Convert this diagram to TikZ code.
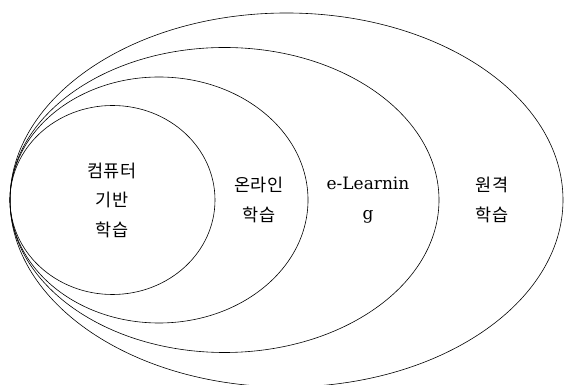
\documentclass[tikz,border=0pt]{standalone}
\usepackage{fontspec}
\setmainfont{DejaVu Serif}
\newfontfamily\korfont{Noto Sans CJK KR}
\usetikzlibrary{shapes.geometric}
\begin{document}
\begin{tikzpicture}[x=1pt, y=1pt,
    ring/.style={draw, ellipse, line width=0.6pt, inner sep=0pt, outer sep=0pt},
    areatext/.style={align=center, font=\korfont\fontsize{17.5}{29.5}\selectfont},
    latintext/.style={align=center, font=\fontsize{17}{29.5}\selectfont}]
    \useasboundingbox (0,0) rectangle (565,385);
    % nested areas, all touching at the left
    \node[ring, minimum width=553pt, minimum height=374pt] (distance) at (286.5,185) {};
    \node[ring, minimum width=429pt, minimum height=305pt] (elearn) at (224.5,185) {};
    \node[ring, minimum width=298pt, minimum height=246pt] (online) at (159,185) {};
    \node[ring, minimum width=205pt, minimum height=189pt] (cbl) at (112.5,185) {};
    % texts
    \node[areatext] (cbltext) at (112,185) {컴퓨터\\기반\\학습};
    \node[areatext] (onlinetext) at (259,185) {온라인\\학습};
    \node[latintext] (elearntext) at (368,185) {e-Learnin\\g};
    \node[areatext] (distancetext) at (492,185) {원격\\학습};
\end{tikzpicture}
\end{document}
